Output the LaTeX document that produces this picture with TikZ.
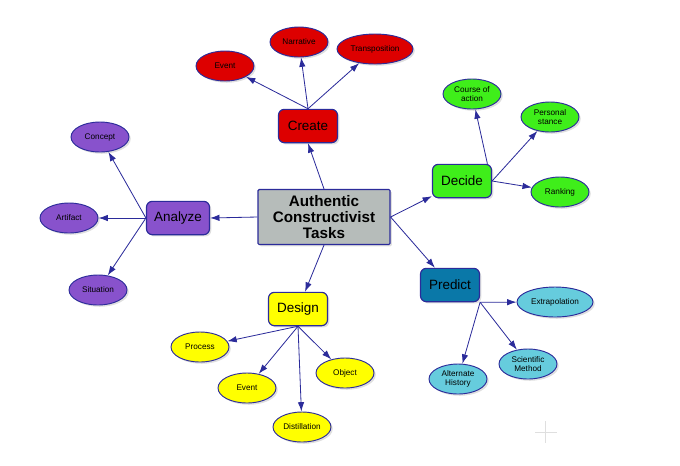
\documentclass[tikz,border=0pt]{standalone}
\usepackage{fontspec}
\setmainfont{Liberation Sans}
\usetikzlibrary{shapes.geometric,shadows,arrows.meta}

\definecolor{edgeblue}{HTML}{2B2B9A}
\definecolor{hubgray}{HTML}{B6BCBA}
\definecolor{createred}{HTML}{DD0000}
\definecolor{decidegreen}{HTML}{3FEE1A}
\definecolor{analyzepurple}{HTML}{8852CC}
\definecolor{designyellow}{HTML}{FFFF00}
\definecolor{predictblue}{HTML}{0A78A8}
\definecolor{predictcyan}{HTML}{66CCDD}

\tikzset{
  softshadow/.style={drop shadow={opacity=0.25,shadow xshift=1.5pt,shadow yshift=-1.5pt}},
  hub/.style={draw=edgeblue,line width=1pt,fill=hubgray,rounded corners=1pt,
    minimum width=3.96cm,minimum height=1.65cm,inner sep=1pt,align=center,
    font=\bfseries\fontsize{13}{14}\selectfont,softshadow},
  topic/.style={draw=edgeblue,line width=1pt,rounded corners=5pt,
    minimum width=1.77cm,minimum height=1cm,inner sep=1pt,
    font=\fontsize{11.5}{13}\selectfont,softshadow},
  leaf/.style={ellipse,draw=edgeblue,line width=0.8pt,inner sep=0pt,
    minimum width=1.74cm,minimum height=0.9cm,align=center,
    font=\fontsize{7}{7.5}\selectfont,softshadow},
  link/.style={edgeblue,line width=0.7pt,-{Latex[length=8pt,width=5.5pt]}}
}

\begin{document}
\begin{tikzpicture}[x=0.03cm,y=-0.03cm]
\useasboundingbox (0,0) rectangle (680,465);

% === Centre ===
\node[hub] (hub) at (324,217) {Authentic\\Constructivist\\Tasks};

% === Main topics ===
\node[topic,fill=createred] (create) at (308,126) {Create};
\node[topic,fill=decidegreen] (decide) at (462,181) {Decide};
\node[topic,fill=analyzepurple,minimum width=1.89cm] (analyze) at (178,218) {Analyze};
\node[topic,fill=designyellow] (design) at (298,309) {Design};
\node[topic,fill=predictblue] (predict) at (450,285) {Predict};

% === Create leaves ===
\node[leaf,fill=createred] (cevent) at (225,66) {Event};
\node[leaf,fill=createred] (narrative) at (299,42) {Narrative};
\node[leaf,fill=createred,minimum width=2.28cm] (transposition) at (375,49) {Transposition};

% === Decide leaves ===
\node[leaf,fill=decidegreen] (course) at (472,94) {Course of\\action};
\node[leaf,fill=decidegreen] (stance) at (550,117) {Personal\\stance};
\node[leaf,fill=decidegreen] (ranking) at (560,192) {Ranking};

% === Analyze leaves ===
\node[leaf,fill=analyzepurple] (concept) at (100,137) {Concept};
\node[leaf,fill=analyzepurple] (artifact) at (69,218) {Artifact};
\node[leaf,fill=analyzepurple] (situation) at (98,290) {Situation};

% === Design leaves ===
\node[leaf,fill=designyellow] (process) at (200,347) {Process};
\node[leaf,fill=designyellow] (devent) at (247,388) {Event};
\node[leaf,fill=designyellow] (object) at (345,373) {Object};
\node[leaf,fill=designyellow] (distillation) at (302,427) {Distillation};

% === Predict leaves ===
\node[leaf,fill=predictcyan,minimum width=2.28cm] (extrapolation) at (555,302) {Extrapolation};
\node[leaf,fill=predictcyan] (scientific) at (528,364) {Scientific\\Method};
\node[leaf,fill=predictcyan] (alternate) at (458,379) {Alternate\\History};

% === Connectors ===
\draw[link] (hub.north) -- (create.south);
\draw[link] (hub.west) -- (analyze.east);
\draw[link] (hub.south) -- (design);
\draw[link] (hub.east) -- (decide);
\draw[link] (hub.east) -- (predict);

\foreach \leaf in {cevent,narrative,transposition}
  \draw[link] (create.north) -- (\leaf);
\draw[link] ([xshift=-4pt]decide.north east) -- (course);
\foreach \leaf in {stance,ranking}
  \draw[link] (decide.east) -- (\leaf);
\foreach \leaf in {concept,artifact,situation}
  \draw[link] (analyze.west) -- (\leaf);
\foreach \leaf in {process,devent,object,distillation}
  \draw[link] (design.south) -- (\leaf);
\foreach \leaf in {extrapolation,scientific,alternate}
  \draw[link] (predict.south east) -- (\leaf);

% faint cross mark
\draw[gray!25] (535,432) -- (557,432) (545,421) -- (545,443);

\end{tikzpicture}
\end{document}
